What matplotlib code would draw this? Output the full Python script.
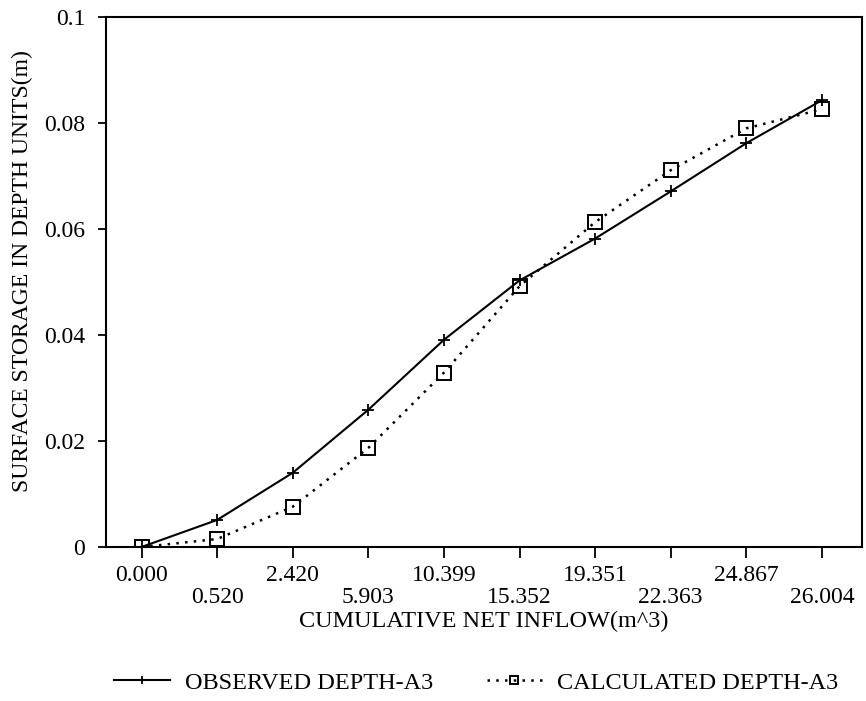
import numpy as np
import matplotlib.pyplot as plt
from matplotlib.ticker import FormatStrFormatter

plt.rcParams['font.family'] = ['Liberation Serif', 'DejaVu Serif']

inflow = ['0.000', '0.520', '2.420', '5.903', '10.399',
          '15.352', '19.351', '22.363', '24.867', '26.004']
observed = [0.0, 0.0051, 0.0140, 0.0259, 0.0391, 0.0503, 0.0582, 0.0671, 0.0762, 0.0843]
calculated = [0.0, 0.0015, 0.0076, 0.0187, 0.0329, 0.0492, 0.0613, 0.0711, 0.0790, 0.0826]

x = np.arange(len(inflow))
# alternate labels between two rows
labels = [lab if i % 2 == 0 else '\n' + lab for i, lab in enumerate(inflow)]

fig = plt.figure(figsize=(8.66, 7.01), dpi=100)
ax = fig.add_axes([0.1224, 0.2197, 0.873, 0.756])

ax.plot(x, observed, color='black', lw=1.5, marker='+', ms=9, mew=1.3,
        label='OBSERVED DEPTH-A3')
ax.plot(x, calculated, color='black', lw=1.8, ls=(0, (1, 2.5)), marker='s', ms=10,
        mfc='none', mec='black', mew=1.4, label='CALCULATED DEPTH-A3')

ax.set_xlim(-0.47, 9.53)
ax.set_ylim(0, 0.1)
ax.set_xticks(x)
ax.set_xticklabels(labels, fontsize=17, linespacing=1.05)
ax.set_yticks([0, 0.02, 0.04, 0.06, 0.08, 0.1])
ax.yaxis.set_major_formatter(FormatStrFormatter('%g'))
ax.tick_params(axis='y', labelsize=17, length=6, width=1.3, direction='out', pad=9)
ax.tick_params(axis='x', length=8, width=1.3, direction='out', pad=5)
for s in ax.spines.values():
    s.set_linewidth(1.5)

ax.set_xlabel('CUMULATIVE NET INFLOW(m^3)', fontsize=17.5, labelpad=2)
ax.set_ylabel('SURFACE STORAGE IN DEPTH UNITS(m)', fontsize=17)
ax.yaxis.set_label_coords(-0.096, 0.52)

fig.legend(loc='center', bbox_to_anchor=(0.55, 0.026), ncol=2, frameon=False,
           fontsize=17.5, handlelength=2.3, handletextpad=0.6, columnspacing=2.2,
           markerscale=0.6)

fig.savefig('out.png', dpi=100)
